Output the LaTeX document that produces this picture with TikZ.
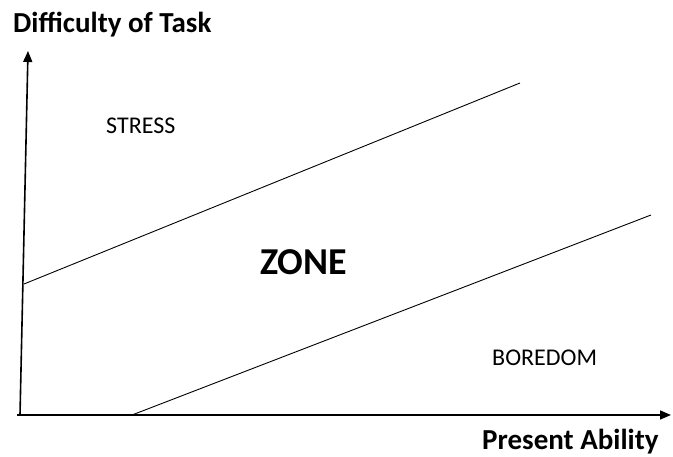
\documentclass[tikz,border=0pt]{standalone}
\usepackage{fontspec}
\setmainfont{Carlito}
\usetikzlibrary{arrows.meta}
\begin{document}
\begin{tikzpicture}[x=1pt,y=1pt,
  axis/.style={line width=1.6pt,-{Triangle[length=11pt,width=9pt]}},
  band/.style={line width=0.9pt},
  lbl/.style={inner sep=0pt,font=\fontsize{24}{28}\selectfont},
  ttl/.style={inner sep=0pt,font=\bfseries\fontsize{29}{34}\selectfont}]
\useasboundingbox (0,0) rectangle (673,457);
\coordinate (O) at (20,42);
\coordinate (Ytop) at (28,406);
\coordinate (Xend) at (671,42);
\coordinate (U1) at (24,173);
\coordinate (U2) at (520,374);
\coordinate (L1) at (132,42);
\coordinate (L2) at (651,242);
\draw[axis] (O) -- (Ytop);
\draw[axis] ([xshift=-3pt]O) -- (Xend);
\draw[band] (U1) -- (U2);
\draw[band] (L1) -- (L2);
\node[ttl,anchor=base west] (ylab) at (13,424) {Difficulty of Task};
\node[ttl,anchor=base west] (xlab) at (482,7.5) {Present Ability};
\node[lbl,anchor=base west] (stress) at (106,323) {STRESS};
\node[lbl,anchor=base west] (boredom) at (492,91) {BOREDOM};
\node[inner sep=0pt,anchor=base west,font=\bfseries\fontsize{38}{44}\selectfont] (zone) at (260,182) {ZONE};
\end{tikzpicture}
\end{document}
